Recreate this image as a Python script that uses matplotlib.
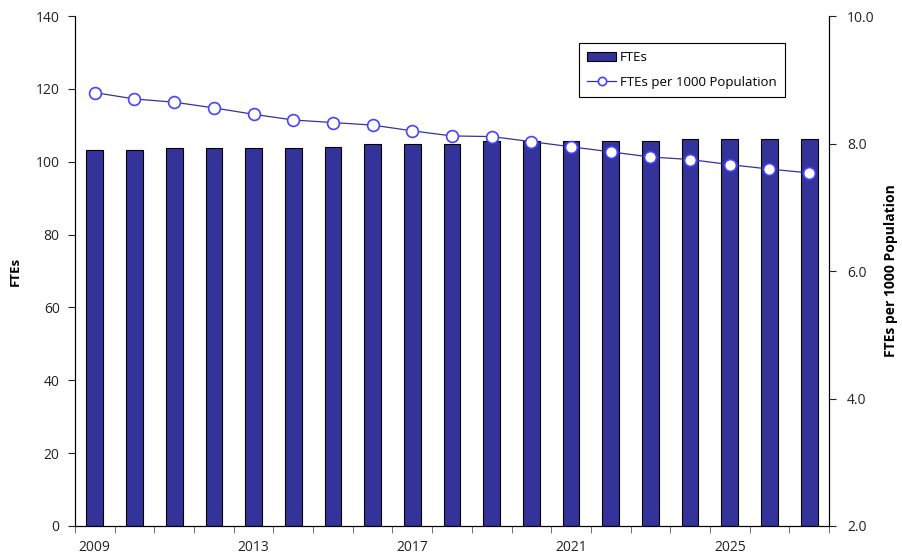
import numpy as np
import matplotlib.pyplot as plt

years = list(range(2009, 2028))
ftes = [103.2, 103.2, 103.7, 103.7, 103.7, 103.7, 104.2, 104.9, 104.9, 104.9,
        105.8, 105.8, 105.8, 105.8, 105.8, 106.2, 106.2, 106.2, 106.2]
ftes_per_1000 = [8.80, 8.70, 8.65, 8.56, 8.46, 8.37, 8.33, 8.29, 8.20, 8.12,
                 8.11, 8.03, 7.95, 7.87, 7.79, 7.75, 7.67, 7.60, 7.54]
year_labels = ["2009", "2013", "2017", "2021", "2025"]

plt.rcParams["font.family"] = ["Open Sans", "DejaVu Sans"]

fig = plt.figure(figsize=(9.02, 5.56), dpi=100)
ax = fig.add_axes([0.0831, 0.054, 0.836, 0.917])
x = np.arange(len(years))

bars = ax.bar(x, ftes, width=0.42, color="#333399", edgecolor="black",
              linewidth=0.8, label="FTEs", zorder=2)
ax.set_xlim(-0.5, len(years) - 0.5)
ax.set_ylim(0, 140)
ax.set_yticks(range(0, 141, 20))
ax.set_ylabel("FTEs", fontweight="bold", fontsize=9.5, labelpad=10)
ax.spines["top"].set_visible(False)

# year labels under every fourth bar, ticks between bars
ax.set_xticks([years.index(int(y)) for y in year_labels])
ax.set_xticklabels(year_labels)
ax.set_xticks(np.arange(-0.5, len(years)), minor=True)
ax.tick_params(axis="x", which="major", length=0, pad=10, labelsize=10, colors="#222222")
ax.tick_params(axis="x", which="minor", length=5, color="#555555")
ax.tick_params(axis="y", length=5, pad=6, labelsize=10, colors="#222222")

ax2 = ax.twinx()
line, = ax2.plot(x, ftes_per_1000, color="#333399", linewidth=0.9,
                 marker="o", markersize=8.5, markerfacecolor="white",
                 markeredgecolor="#4444ff", markeredgewidth=1.2,
                 label="FTEs per 1000 Population")
ax2.set_ylim(2.0, 10.0)
ax2.set_yticks([2.0, 4.0, 6.0, 8.0, 10.0])
ax2.set_yticklabels(["2.0", "4.0", "6.0", "8.0", "10.0"])
ax2.tick_params(axis="y", length=5, pad=8, labelsize=10, colors="#222222")
ax2.set_ylabel("FTEs per 1000 Population", fontweight="bold", fontsize=10,
               labelpad=7, rotation=90)
ax2.spines["top"].set_visible(False)

leg = ax2.legend([bars, line], ["FTEs", "FTEs per 1000 Population"],
                 loc="upper left", bbox_to_anchor=(0.66, 0.96),
                 fancybox=False, edgecolor="black", framealpha=1,
                 fontsize=9.5, handlelength=2.2, borderpad=0.6,
                 labelspacing=0.9, handletextpad=0.3, markerscale=0.7)
leg.get_frame().set_linewidth(0.8)

fig.savefig("out.png", dpi=100)
